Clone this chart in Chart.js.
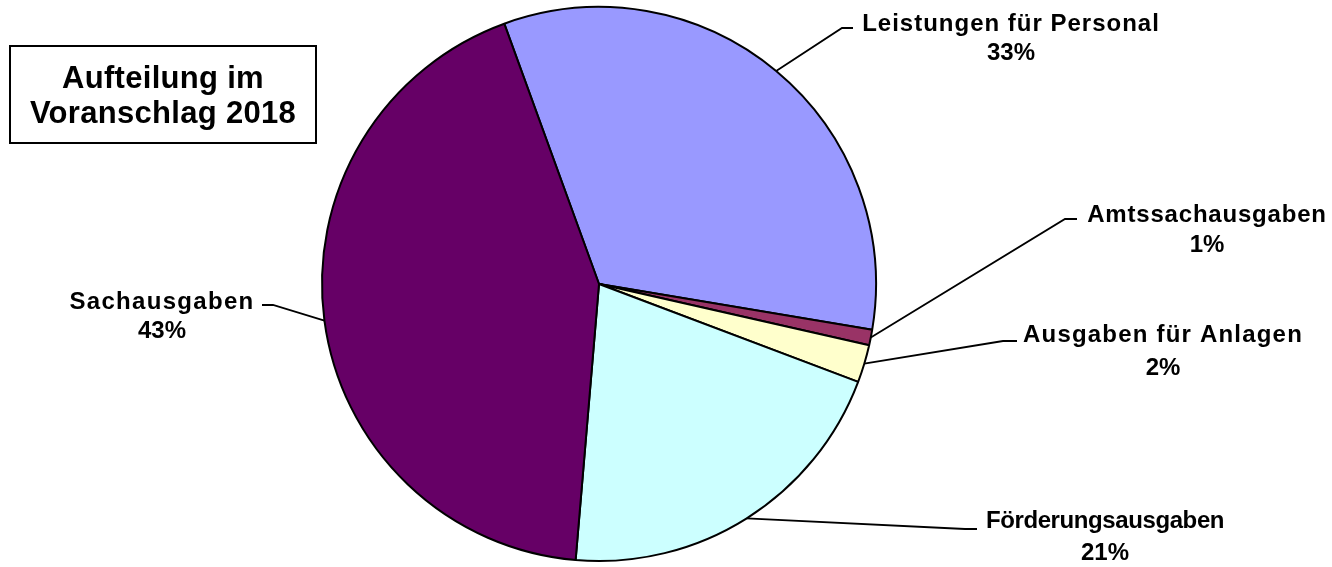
<!DOCTYPE html>
<html lang="de">
<head>
    <meta charset="UTF-8" />
    <title>Aufteilung im Voranschlag 2018</title>
    <script src="https://cdn.jsdelivr.net/npm/chart.js"></script>
    <style>
        body {
            margin: 0;
            padding: 0;
            background: #fff;
        }

        .chart-wrap {
            position: relative;
            width: 1332px;
            height: 567px;
        }
    </style>
</head>
<body>
    <div class="chart-wrap">
        <canvas id="pieChart"></canvas>
    </div>

    <script>
        // Daten (Anteile in %)
        const categories = ['Leistungen für Personal', 'Amtssachausgaben', 'Ausgaben für Anlagen', 'Förderungsausgaben', 'Sachausgaben'];
        const shares = [33.2, 0.9, 2.2, 20.6, 43.1];
        const sliceColors = ['#9999FF', '#993366', '#FFFFCC', '#CCFFFF', '#660066'];
        const titleLines = ['Aufteilung im', 'Voranschlag 2018'];

        // Lage der Beschriftungen (Knick der Führungslinie, Ende, Textmitte, Grundlinien)
        const labelLayout = [
            { elbow: [842, 28],  end: [853, 28],  x: 1011, y: [31, 60],   spacing: 1.0 },
            { elbow: [1065, 219], end: [1077, 219], x: 1207, y: [222, 252], spacing: 0.8 },
            { elbow: [1003, 341], end: [1017, 341], x: 1163, y: [342, 375], spacing: 1.2 },
            { elbow: [965, 529], end: [977, 529], x: 1105, y: [528, 560], spacing: -0.4 },
            { elbow: [273, 305], end: [262, 305], x: 162,  y: [309, 338], spacing: 1.3 }
        ];

        const FONT = '"Liberation Sans", Arial, sans-serif';

        const calloutPlugin = {
            id: 'callouts',
            afterDraw(chart) {
                const ctx = chart.ctx;
                const meta = chart.getDatasetMeta(0);
                const values = chart.data.datasets[0].data;
                const total = values.reduce((a, b) => a + b, 0);

                ctx.save();
                meta.data.forEach((arc, i) => {
                    const p = arc.getProps(['x', 'y', 'startAngle', 'endAngle', 'outerRadius'], true);
                    const mid = (p.startAngle + p.endAngle) / 2;
                    const sx = p.x + Math.cos(mid) * p.outerRadius;
                    const sy = p.y + Math.sin(mid) * p.outerRadius;
                    const lay = labelLayout[i];

                    ctx.strokeStyle = '#000';
                    ctx.lineWidth = 1.8;
                    ctx.beginPath();
                    ctx.moveTo(sx, sy);
                    ctx.lineTo(lay.elbow[0], lay.elbow[1]);
                    ctx.lineTo(lay.end[0], lay.end[1]);
                    ctx.stroke();

                    ctx.fillStyle = '#000';
                    ctx.textAlign = 'center';
                    ctx.textBaseline = 'alphabetic';
                    ctx.font = 'bold 24px ' + FONT;
                    ctx.letterSpacing = lay.spacing + 'px';
                    ctx.fillText(chart.data.labels[i], lay.x, lay.y[0]);
                    ctx.letterSpacing = '0px';
                    ctx.fillText(Math.round(values[i] / total * 100) + '%', lay.x, lay.y[1]);
                });

                // Titelkasten
                ctx.strokeStyle = '#000';
                ctx.lineWidth = 2;
                ctx.fillStyle = '#fff';
                ctx.fillRect(10, 46, 306, 97);
                ctx.strokeRect(10, 46, 306, 97);
                ctx.fillStyle = '#000';
                ctx.font = 'bold 31px ' + FONT;
                ctx.letterSpacing = '0.3px';
                ctx.textAlign = 'center';
                ctx.fillText(titleLines[0], 163, 88);
                ctx.fillText(titleLines[1], 163, 123);
                ctx.restore();
            }
        };

        const pieCtx = document.getElementById('pieChart').getContext('2d');

        const pieChart = new Chart(pieCtx, {
            type: 'pie',
            data: {
                labels: categories,
                datasets: [{
                    data: shares,
                    backgroundColor: sliceColors,
                    borderColor: '#000',
                    borderWidth: 2,
                    hoverOffset: 0
                }]
            },
            options: {
                responsive: true,
                maintainAspectRatio: false,
                animation: false,
                rotation: -20,
                radius: 277,
                layout: {
                    padding: { left: 300, right: 434, top: 1, bottom: 0 }
                },
                plugins: {
                    legend: { display: false },
                    tooltip: { enabled: false }
                },
                events: []
            },
            plugins: [calloutPlugin]
        });
    </script>
</body>
</html>
